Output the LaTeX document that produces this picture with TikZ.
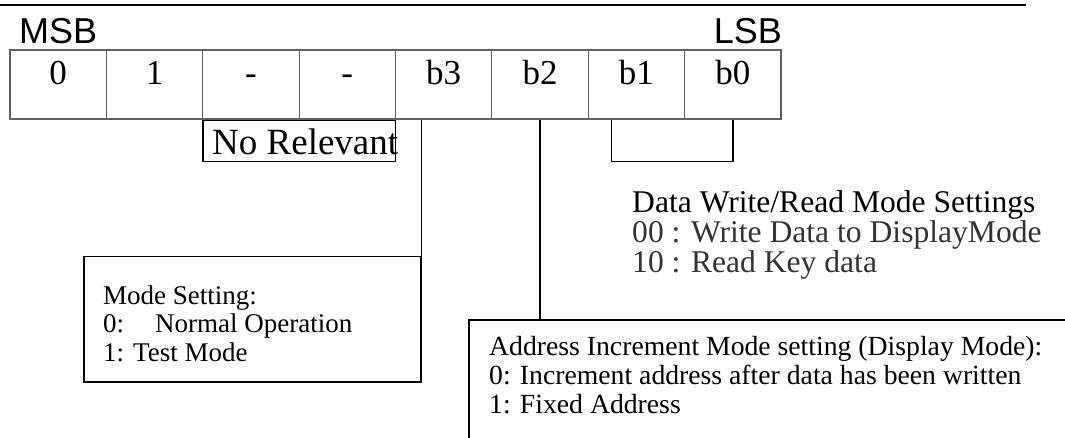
\documentclass[tikz,border=0pt]{standalone}
\usepackage{fontspec}
\setmainfont{Liberation Serif}
\newfontfamily\arialf{Liberation Sans}
\definecolor{tablegray}{gray}{0.38}
\definecolor{textgray}{gray}{0.2}
\begin{document}
\begin{tikzpicture}[x=1pt,y=-1pt,
  cell/.style={draw=tablegray, line width=1.2pt, minimum width=96.375pt, inner sep=0pt,
    text height=35pt, text depth=34pt, font=\fontsize{35}{35}\selectfont, anchor=base},
  box/.style={draw=black, line width=1.5pt, inner sep=0pt},
  conn/.style={draw=black, line width=1.5pt},
  txt/.style={inner sep=0pt, align=left}]
\useasboundingbox (0,0) rectangle (1065,438);
% top rule
\coordinate (ruleL) at (0,5);
\coordinate (ruleR) at (1026,5);
\draw[line width=1.6pt] (ruleL) -- (ruleR);
% MSB / LSB
\node[txt, anchor=base west, font=\arialf\fontsize{36}{36}\selectfont] (msb) at (19,44) {MSB};
\node[txt, anchor=base east, font=\arialf\fontsize{36}{36}\selectfont] (lsb) at (782,44) {LSB};
% register cells
\foreach \i/\t in {0/0,1/1,2/-,3/-,4/b3,5/b2,6/b1,7/b0}
  \node[cell] (c\i) at ({10+96.375*(\i+0.5)},85) {\t};
% No Relevant box
\node[box, minimum width=192.75pt, minimum height=41pt, anchor=north west] (nr) at (c2.south west) {};
\node[txt, anchor=base west, font=\fontsize{37}{37}\selectfont] (nrt) at (212,155) {No Relevant};
% Mode setting box (b3)
\node[box, minimum width=337pt, minimum height=125pt, anchor=north west] (mode) at (83,256) {};
\draw[conn] (mode.north east) -- (mode.north east |- c3.south);
\node[txt, anchor=north west, font=\fontsize{27}{28.5}\selectfont] (modet) at (103,285.5)
  {Mode Setting:\\0:\hspace{31pt}Normal Operation\\1: Test Mode};
% Address increment box (b2)
\node[box, minimum width=640pt, minimum height=150pt, anchor=north west] (addr) at (468,319) {};
\draw[conn] (c5.south) -- (c5.south |- addr.north);
\node[txt, anchor=north west, font=\fontsize{27.7}{29}\selectfont] (addrt) at (489,336)
  {Address Increment Mode setting (Display Mode):\\0: Increment address after data has been written\\1: Fixed Address};
% b1 b0 bracket
\coordinate (brL) at ([xshift=24pt]c6.south west);
\draw[conn] (brL) -- ++(0,42) -| (c7.south);
% Data write/read text
\node[txt, anchor=north west, font=\fontsize{31.6}{30}\selectfont] (dwr) at (632,190)
  {Data Write/Read Mode Settings\\\textcolor{textgray}{00 : Write Data to DisplayMode}\\\textcolor{textgray}{10 : Read Key data}};
\end{tikzpicture}
\end{document}
